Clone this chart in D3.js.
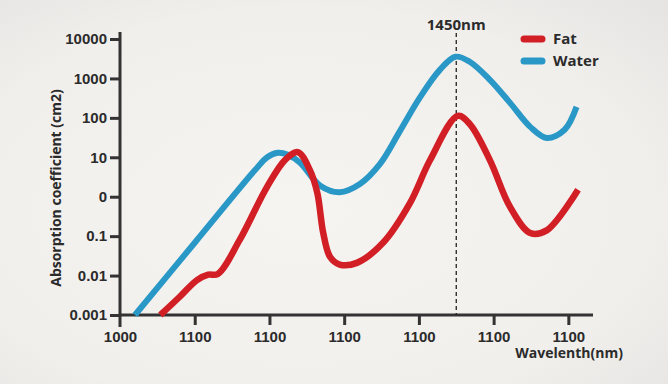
<!DOCTYPE html>
<html>
<head>
<meta charset="utf-8">
<script src="https://cdn.jsdelivr.net/npm/d3@7"></script>
<style>
  body { margin: 0; background: #f2f0ed; }
  svg { display: block; font-family: "Open Sans", "DejaVu Sans", sans-serif; }
</style>
</head>
<body>
<div id="chart"></div>
<script>
// tick positions (nm) and the labels as printed on the chart
var xTickValues = [1000, 1100, 1200, 1300, 1400, 1500, 1600];
var xTickLabels = ["1000", "1100", "1100", "1100", "1100", "1100", "1100"];
var yTickValues = [0.001, 0.01, 0.1, 1, 10, 100, 1000, 10000];
var yTickLabels = ["0.001", "0.01", "0.1", "0", "10", "100", "1000", "10000"];

// water absorption curve: [wavelength, coefficient]
var waterData = [
    [1020, 0.001], [1100, 0.068], [1181, 4.8], [1197, 10], [1211, 13],
    [1225, 11.5], [1241, 7.3], [1268, 1.9], [1294, 1.3], [1321, 2.1],
    [1348, 6.8], [1374, 44], [1401, 320], [1428, 1650], [1449, 3550],
    [1468, 2650], [1495, 920], [1522, 240], [1549, 59], [1571, 31],
    [1595, 50], [1611, 190]
];

// fat absorption curve
var fatData = [
    [1054, 0.001], [1080, 0.0029], [1103, 0.0077], [1118, 0.0105], [1131, 0.011],
    [1160, 0.079], [1197, 1.8], [1221, 8.6], [1238, 13.5], [1254, 4.8],
    [1264, 1.26], [1272, 0.12], [1281, 0.03], [1294, 0.019], [1317, 0.021],
    [1352, 0.068], [1388, 0.69], [1415, 8.5], [1452, 112], [1468, 70],
    [1495, 8.5], [1522, 0.55], [1549, 0.12], [1571, 0.14], [1613, 1.5]
];

var markerNm = 1450;

var width = 668, height = 384;
var margin = { top: 39, right: 75, bottom: 69, left: 120 };

var svg = d3.select("#chart").append("svg")
    .attr("width", width)
    .attr("height", height);

// soft background
var grad = svg.append("defs").append("radialGradient")
    .attr("id", "bg").attr("cx", "45%").attr("cy", "55%").attr("r", "75%");
grad.append("stop").attr("offset", "0%").attr("stop-color", "#f6f4f1");
grad.append("stop").attr("offset", "70%").attr("stop-color", "#f1efec");
grad.append("stop").attr("offset", "100%").attr("stop-color", "#e6e5e3");
svg.append("rect").attr("width", width).attr("height", height).attr("fill", "url(#bg)");

var x = d3.scaleLinear()
    .domain([1000, 1633])
    .range([margin.left, width - margin.right]);

var y = d3.scaleLog()
    .domain([0.001, 10000])
    .range([height - margin.bottom, margin.top]);

var axisColor = "#333";
var textColor = "#2b2b2b";

// y axis
var yAxis = d3.axisLeft(y)
    .tickValues(yTickValues)
    .tickSize(10)
    .tickPadding(3)
    .tickFormat(function(d, i) { return yTickLabels[i]; });

var gy = svg.append("g")
    .attr("transform", "translate(" + margin.left + ",0)")
    .call(yAxis);
gy.select(".domain").remove();
gy.append("line")
    .attr("x1", 0).attr("x2", 0)
    .attr("y1", 32).attr("y2", y(0.001) + 12)
    .attr("stroke", axisColor).attr("stroke-width", 3);

// x axis
var xAxis = d3.axisBottom(x)
    .tickValues(xTickValues)
    .tickSize(10)
    .tickPadding(6)
    .tickFormat(function(d, i) { return xTickLabels[i]; });

var gx = svg.append("g")
    .attr("transform", "translate(0," + y(0.001) + ")")
    .call(xAxis);
gx.select(".domain").remove();
gx.append("line")
    .attr("x1", margin.left).attr("x2", width - margin.right)
    .attr("y1", 0).attr("y2", 0)
    .attr("stroke", axisColor).attr("stroke-width", 3);

[gx, gy].forEach(function(g) {
    g.selectAll(".tick line").attr("stroke", axisColor).attr("stroke-width", 3);
    g.selectAll(".tick text")
        .attr("fill", textColor)
        .style("font-size", "15px")
        .style("font-weight", "700");
});
gx.select(".tick line").remove();

// axis titles
svg.append("text")
    .attr("transform", "translate(61,188) rotate(-90)")
    .attr("text-anchor", "middle")
    .attr("fill", textColor)
    .style("font-size", "14px")
    .style("font-weight", "700")
    .text("Absorption coefficient (cm2)");

svg.append("text")
    .attr("x", 623).attr("y", 358)
    .attr("text-anchor", "end")
    .attr("fill", textColor)
    .style("font-size", "14px")
    .style("font-weight", "700")
    .text("Wavelenth(nm)");

// 1450nm marker
svg.append("line")
    .attr("x1", x(markerNm)).attr("x2", x(markerNm))
    .attr("y1", 33).attr("y2", y(0.001))
    .attr("stroke", "#222").attr("stroke-width", 1.3)
    .attr("stroke-dasharray", "4,3");

svg.append("text")
    .attr("x", x(markerNm)).attr("y", 30)
    .attr("text-anchor", "middle")
    .attr("fill", textColor)
    .style("font-size", "15px")
    .style("font-weight", "700")
    .text(markerNm + "nm");

// curves
var line = d3.line()
    .curve(d3.curveCatmullRom.alpha(0.5))
    .x(function(d) { return x(d[0]); })
    .y(function(d) { return y(d[1]); });

svg.append("path")
    .datum(waterData)
    .attr("d", line)
    .attr("fill", "none")
    .attr("stroke", "#2a98c6")
    .attr("stroke-width", 6);

svg.append("path")
    .datum(fatData)
    .attr("d", line)
    .attr("fill", "none")
    .attr("stroke", "#d21f26")
    .attr("stroke-width", 6.5);

// legend
var legend = [
    { name: "Fat", color: "#d21f26", y: 39 },
    { name: "Water", color: "#2a98c6", y: 61 }
];
var lg = svg.selectAll(".legend").data(legend).enter().append("g")
    .attr("class", "legend");
lg.append("line")
    .attr("x1", 524).attr("x2", 542)
    .attr("y1", function(d) { return d.y; }).attr("y2", function(d) { return d.y; })
    .attr("stroke", function(d) { return d.color; })
    .attr("stroke-width", 7)
    .attr("stroke-linecap", "round");
lg.append("text")
    .attr("x", 553)
    .attr("y", function(d) { return d.y + 5; })
    .attr("fill", textColor)
    .style("font-size", "15px")
    .style("font-weight", "700")
    .text(function(d) { return d.name; });
</script>
</body>
</html>
